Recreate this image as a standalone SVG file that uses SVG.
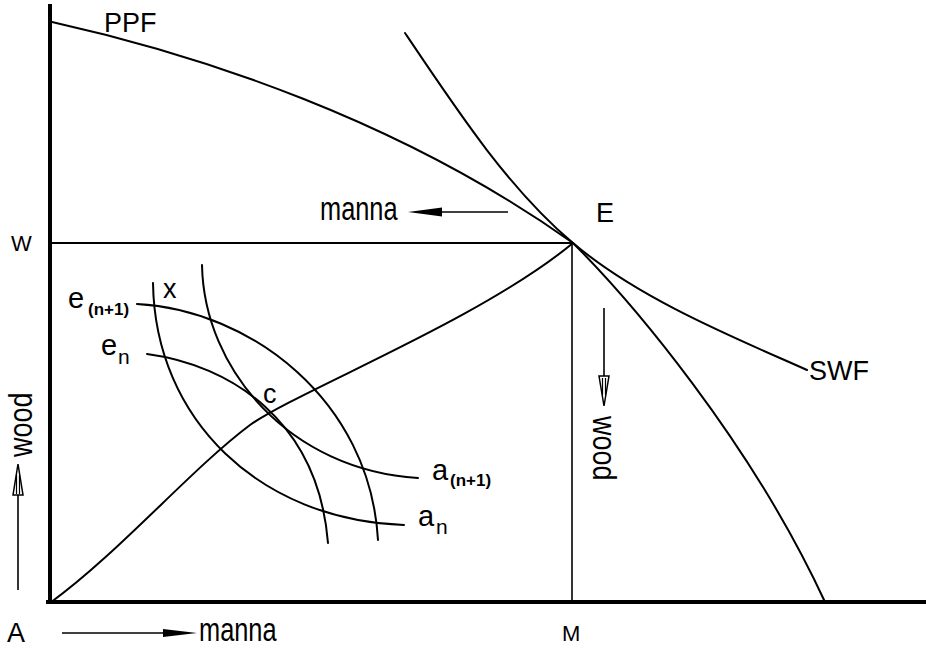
<svg xmlns="http://www.w3.org/2000/svg" width="926" height="648" viewBox="0 0 926 648">
<style>
.ax{stroke:#000;stroke-width:4;fill:none;stroke-linecap:square}
.ln{stroke:#000;stroke-width:2;fill:none;stroke-linecap:round}
.thin{stroke:#000;stroke-width:1.6;fill:none}
.t{font-family:"Liberation Sans",Arial,sans-serif;fill:#000}
.big{font-size:27px}
.sm{font-size:22px}
.subb{font-size:17px;font-weight:bold}
</style>
<rect width="926" height="648" fill="#fff"/>
<g id="axes">
<line class="ax" x1="50" y1="6" x2="50" y2="602"/>
<line class="ax" x1="48" y1="602" x2="926" y2="602"/>
</g>
<g id="connectors">
<line class="ln" x1="50" y1="243" x2="573" y2="243"/>
<line class="thin" x1="572" y1="243" x2="572" y2="600"/>
<path id="ppf-curve" class="ln" d="M52,22 C200,55 400,120 573,243 C630,300 750,440 825,602"/>
<path id="swf-curve" class="ln" d="M405,33 C460,115 510,190 573,243 C640,300 740,340 807,370"/>
<path id="path-AE" class="ln" d="M50,603 C120,552 190,470 250,425 C300,390 480,320 573,243"/>
<path id="an-curve" class="ln" d="M153,283 C155,420 260,520 404,525"/>
<path id="an1-curve" class="ln" d="M202,265 C204,370 290,470 418,478"/>
<path id="en1-curve" class="ln" d="M137,304 C250,310 370,400 378,540"/>
<path id="en-curve" class="ln" d="M147,354 C230,365 318,420 328,543"/>
<line class="thin" x1="442" y1="212" x2="508" y2="212"/>
<polygon points="408,212 442,207.5 442,216.5" fill="#000"/>
<line class="thin" x1="62" y1="633" x2="165" y2="633"/>
<polygon points="197,633 163,629 163,637" fill="#000"/>
<line class="thin" x1="18" y1="590" x2="18" y2="495"/>
<polygon points="18,464 13,495 23,495" fill="#fff" stroke="#000" stroke-width="1.5"/>
<line x1="16.5" y1="475" x2="16.5" y2="494" stroke="#000" stroke-width="1.2"/>
<line x1="19.5" y1="475" x2="19.5" y2="494" stroke="#000" stroke-width="1.2"/>
<line class="thin" x1="604" y1="308" x2="604" y2="376"/>
<polygon points="604,406 599,376 609,376" fill="#fff" stroke="#000" stroke-width="1.5"/>
<line x1="602.5" y1="378" x2="602.5" y2="395" stroke="#000" stroke-width="1.2"/>
<line x1="605.5" y1="378" x2="605.5" y2="395" stroke="#000" stroke-width="1.2"/>
</g>
<g id="label-PPF"><text class="t big" x="104" y="32">PPF</text></g>
<g id="label-SWF"><text class="t big" x="809" y="380">SWF</text></g>
<g id="label-E"><text class="t big" x="596" y="222">E</text></g>
<g id="label-W"><text class="t sm" x="11" y="251">W</text></g>
<g id="label-M"><text class="t sm" x="562" y="641">M</text></g>
<g id="label-A"><text class="t big" x="7" y="642">A</text></g>
<g id="label-manna-top"><text class="t big" transform="translate(320,220) scale(0.94,1.2)">manna</text></g>
<g id="label-manna-bottom"><text class="t big" transform="translate(199,641) scale(0.94,1.2)">manna</text></g>
<g id="label-wood-left"><text class="t big" transform="translate(32,457) rotate(-90) scale(1,1.2)">wood</text></g>
<g id="label-wood-right"><text class="t big" transform="translate(593,416) rotate(90) scale(1,1.2)">wood</text></g>
<g id="label-x"><text class="t big" x="163" y="298">x</text></g>
<g id="label-c"><text class="t big" x="263" y="403">c</text></g>
<g id="label-en1"><text class="t" x="68" y="308"><tspan font-size="29">e</tspan><tspan class="subb" x="88" y="315">(n+1)</tspan></text></g>
<g id="label-en"><text class="t" x="101" y="355"><tspan font-size="29">e</tspan><tspan font-size="21" x="118" y="364">n</tspan></text></g>
<g id="label-an1"><text class="t" x="432" y="480"><tspan font-size="29">a</tspan><tspan class="subb" x="450" y="486">(n+1)</tspan></text></g>
<g id="label-an"><text class="t" x="418" y="526"><tspan font-size="29">a</tspan><tspan font-size="21" x="436" y="534">n</tspan></text></g>
</svg>
